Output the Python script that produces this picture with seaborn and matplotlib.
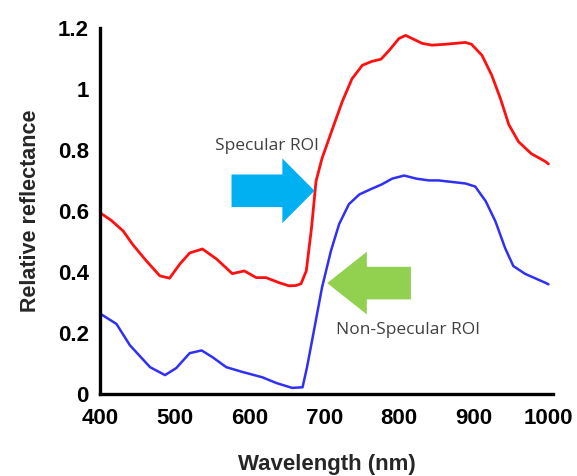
import matplotlib
matplotlib.use("Agg")
import matplotlib.pyplot as plt
import seaborn as sns
import pandas as pd
from matplotlib.patches import FancyArrow

# Data
wl_specular = [400, 415, 431, 444, 462, 480, 493, 507, 520, 537, 556, 577, 593, 609, 622,
               640, 653, 662, 669, 676, 683, 689, 697, 711, 724, 737, 751, 764, 776, 787,
               800, 809, 820, 831, 844, 862, 889, 897, 911, 924, 936, 947, 960, 977, 996,
               1000]
refl_specular = [0.595, 0.57, 0.535, 0.49, 0.437, 0.388, 0.38, 0.427, 0.463, 0.476, 0.443,
                 0.395, 0.404, 0.382, 0.382, 0.365, 0.355, 0.356, 0.362, 0.404, 0.545, 0.698,
                 0.773, 0.870, 0.959, 1.034, 1.079, 1.092, 1.099, 1.128, 1.167, 1.177, 1.164,
                 1.151, 1.145, 1.148, 1.154, 1.148, 1.112, 1.047, 0.968, 0.884, 0.828, 0.789,
                 0.763, 0.755]

wl_nonspec = [400, 422, 440, 467, 487, 502, 520, 536, 551, 569, 591, 617, 636, 657, 671,
              677, 687, 697, 709, 720, 733, 747, 762, 777, 791, 807, 823, 840, 853, 889,
              902, 916, 929, 942, 953, 969, 996, 1000]
refl_nonspec = [0.264, 0.23, 0.16, 0.088, 0.062, 0.085, 0.134, 0.143, 0.12, 0.088, 0.072,
                0.055, 0.036, 0.02, 0.022, 0.088, 0.218, 0.349, 0.47, 0.558, 0.623, 0.655,
                0.672, 0.688, 0.707, 0.717, 0.707, 0.701, 0.701, 0.691, 0.681, 0.633, 0.567,
                0.479, 0.42, 0.394, 0.365, 0.36]

x_ticks = [400, 500, 600, 700, 800, 900, 1000]
y_ticks = [0, 0.2, 0.4, 0.6, 0.8, 1.0, 1.2]
y_tick_labels = ["0", "0.2", "0.4", "0.6", "0.8", "1", "1.2"]

df_s = pd.DataFrame({"wl": wl_specular, "r": refl_specular})
df_n = pd.DataFrame({"wl": wl_nonspec, "r": refl_nonspec})

sns.set_style("white")
plt.rcParams["font.family"] = ["Liberation Sans", "DejaVu Sans"]

fig = plt.figure(figsize=(5.77, 4.76), dpi=100)
ax = fig.add_axes([0.1733, 0.1723, 0.785, 0.768])

sns.lineplot(data=df_s, x="wl", y="r", color="#FF1010", linewidth=2.0, ax=ax,
             estimator=None, sort=False)
sns.lineplot(data=df_n, x="wl", y="r", color="#3030F5", linewidth=1.8, ax=ax,
             estimator=None, sort=False)
for ln in ax.get_lines():
    ln.set_solid_joinstyle("round")

ax.set_xlim(400, 1006)
ax.set_ylim(0, 1.2)
ax.set_xticks(x_ticks)
ax.set_xticklabels([str(t) for t in x_ticks])
ax.set_yticks(y_ticks)
ax.set_yticklabels(y_tick_labels)

for side in ["top", "right"]:
    ax.spines[side].set_visible(False)
for side in ["left", "bottom"]:
    ax.spines[side].set_linewidth(2.4)
    ax.spines[side].set_color("black")

ax.tick_params(axis="both", direction="in", length=5, width=2.2, colors="black",
               labelsize=16, pad=8)
ax.tick_params(axis="x", pad=10)
for lab in ax.get_xticklabels() + ax.get_yticklabels():
    lab.set_fontweight("bold")

ax.set_xlabel("Wavelength (nm)", fontsize=16, fontweight="bold", labelpad=18)
ax.set_ylabel("Relative reflectance", fontsize=15.5, fontweight="bold", labelpad=12)

# Arrows
ax.add_patch(FancyArrow(576, 0.667, 111, 0, width=0.107, head_width=0.212,
                        head_length=43, length_includes_head=True,
                        color="#00B0F0", linewidth=0, zorder=3))
ax.add_patch(FancyArrow(816, 0.364, -112, 0, width=0.107, head_width=0.206,
                        head_length=53, length_includes_head=True,
                        color="#92D050", linewidth=0, zorder=3))

ax.text(624, 0.815, "Specular ROI", fontsize=12.5, color="#404040",
        ha="center", va="center", family=["Open Sans", "DejaVu Sans"])
ax.text(812, 0.21, "Non-Specular ROI", fontsize=12.5, color="#404040",
        ha="center", va="center", family=["Open Sans", "DejaVu Sans"])

fig.savefig("out.png", dpi=100)
